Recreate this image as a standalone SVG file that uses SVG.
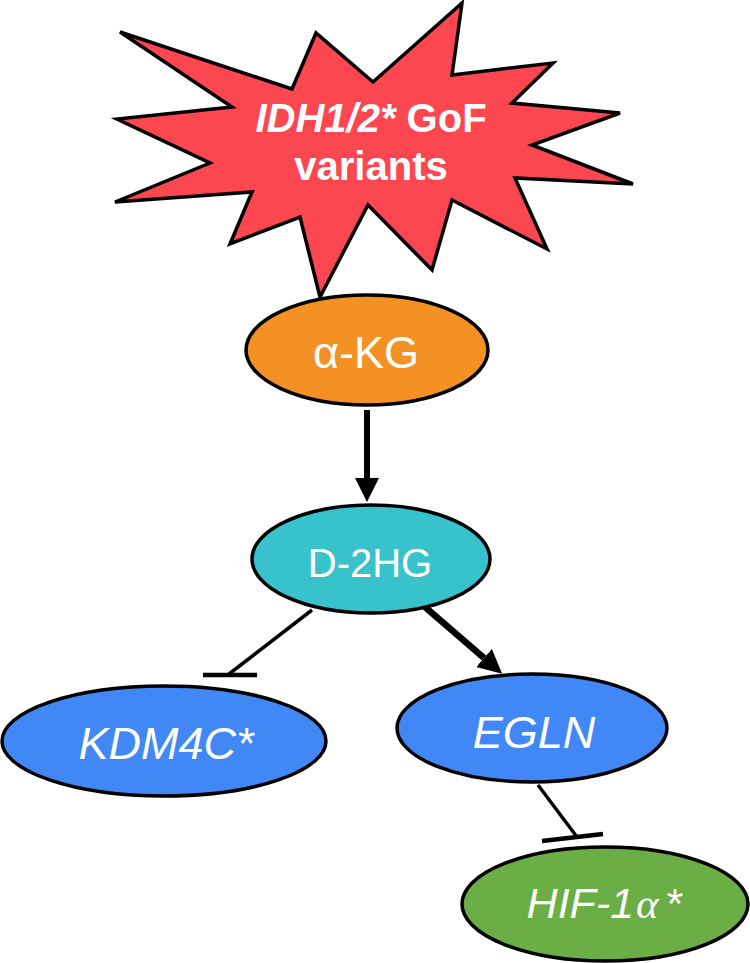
<svg xmlns="http://www.w3.org/2000/svg" width="750" height="963" viewBox="0 0 750 963">
<style>
  .node { stroke: #000; stroke-width: 3.5; }
  .lbl { font-family: "Liberation Sans", Arial, sans-serif; fill: #fff; text-anchor: middle; }
  .conn { stroke: #000; fill: none; }
</style>
<defs>
  <marker id="arrow" markerUnits="userSpaceOnUse" markerWidth="24" markerHeight="24" refX="0" refY="12" orient="auto" viewBox="0 0 24 24">
    <path d="M0,0 L24,12 L0,24 Z" fill="#000"/>
  </marker>
</defs>
<rect width="750" height="963" fill="#fff"/>

<g id="connectors">
  <line class="conn" x1="367" y1="410" x2="367" y2="478" stroke-width="6" marker-end="url(#arrow)"/>
  <line class="conn" x1="425" y1="607" x2="484" y2="658" stroke-width="6.5" marker-end="url(#arrow)"/>
  <line class="conn" x1="312" y1="610" x2="229" y2="674" stroke-width="3.5"/>
  <line class="conn" x1="203" y1="675" x2="257" y2="675" stroke-width="4.5"/>
  <line class="conn" x1="538" y1="785" x2="577" y2="837" stroke-width="3.5"/>
  <line class="conn" x1="542" y1="841" x2="603" y2="834" stroke-width="4.5"/>
</g>

<g id="idh-star">
  <polygon class="node" stroke-width="4" stroke-linejoin="miter" fill="#FC4650" points="120,32 292,89 316,33 373,82 462,3 452,75 553,63 512,103 620,113 532,145 633,184 515,178 547,249 452,200 432,270 368,205 320,297 300,217 230,244 252,192 115,202 210,163 117,119 232,107"/>
  <text class="lbl" x="371" y="132" font-size="40" font-weight="bold"><tspan font-style="italic">IDH1/2*</tspan> GoF</text>
  <text class="lbl" x="371" y="180" font-size="40" font-weight="bold">variants</text>
</g>

<g id="akg">
  <ellipse class="node" cx="367" cy="350" rx="121" ry="55" fill="#F39125"/>
  <text class="lbl" x="366" y="368" font-size="45">α-KG</text>
</g>

<g id="d2hg">
  <ellipse class="node" cx="371" cy="559" rx="119" ry="54" fill="#38C2CC"/>
  <text class="lbl" x="370" y="577" font-size="40">D-2HG</text>
</g>

<g id="kdm4c">
  <ellipse class="node" cx="164" cy="741" rx="162" ry="55" fill="#4187F5"/>
  <text class="lbl" x="166" y="759" font-size="45" font-style="italic">KDM4C*</text>
</g>

<g id="egln">
  <ellipse class="node" cx="532" cy="728" rx="135" ry="54" fill="#4187F5"/>
  <text class="lbl" x="534" y="748" font-size="45" font-style="italic">EGLN</text>
</g>

<g id="hif1a">
  <ellipse class="node" cx="605" cy="904" rx="143" ry="57" fill="#6AAE45"/>
  <text class="lbl" x="604" y="918" font-size="43" font-style="italic">HIF-1<tspan font-family="'Liberation Serif', serif" dx="2">α</tspan><tspan dx="6">*</tspan></text>
</g>
</svg>
